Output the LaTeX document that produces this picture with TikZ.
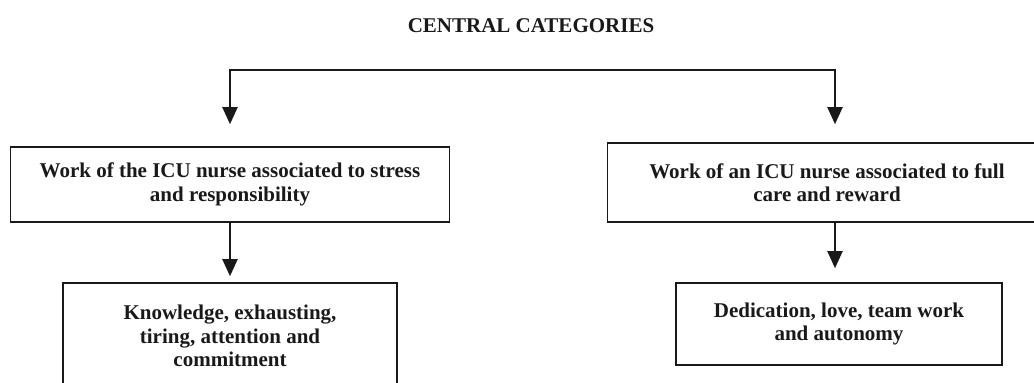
\documentclass[tikz,border=0pt]{standalone}
\usepackage{fontspec}
\setmainfont{Liberation Serif}
\usepackage{tikz}
\usetikzlibrary{arrows.meta, positioning}
\tikzstyle{cTitle} = [anchor=base, inner sep=0pt, font=\fontsize{21}{23.5}\selectfont\bfseries, text=black!90]
\tikzstyle{cCategory} = [rectangle, minimum width=439pt, minimum height=75pt, align=center, draw=black!90, line width=1.6pt, font=\fontsize{21}{23.5}\selectfont\bfseries, text=black!90]
\tikzstyle{cSubcategory} = [rectangle, minimum width=334pt, minimum height=106pt, align=center, draw=black!90, line width=1.6pt, font=\fontsize{21}{23.5}\selectfont\bfseries, text=black!90]
\tikzstyle{cArrow} = [line width=2pt, draw=black!90, -{Triangle[width=15pt,length=17pt]}]
\begin{document}
\begin{tikzpicture}[x=1pt, y=-1pt]
    \useasboundingbox (0,0) rectangle (1034,383);
    \clip (0,0) rectangle (1034,383);
    \node (title) [cTitle] at (531,32) {CENTRAL CATEGORIES};
    \node (stress) [cCategory] at (230,184.5) {Work of the ICU nurse associated to stress\\and responsibility};
    \node (care) [cCategory, minimum height=79pt] at (827,182.5) {Work of an ICU nurse associated to full\\care and reward};
    \node (knowledge) [cSubcategory, below of=stress, node distance=151.5pt] {Knowledge, exhausting,\\tiring, attention and\\commitment};
    \node (dedication) [cSubcategory, below of=care, node distance=141.5pt, xshift=12pt, minimum width=326pt, minimum height=82pt] {Dedication, love, team work\\and autonomy};
    \coordinate (splitL) at (230,70);
    \coordinate (splitR) at (835,70);

    \draw [cArrow, shorten >=22pt] (splitR) -- (splitL) -- (splitL |- stress.north);
    \draw [cArrow, shorten >=18pt] (splitL) -- (splitR) -- (splitR |- care.north);
    \draw [cArrow, shorten >=6pt] (stress.south) -- (knowledge.north);
    \draw [cArrow, shorten >=14pt] (splitR |- care.south) -- (splitR |- dedication.north);
\end{tikzpicture}
\end{document}
